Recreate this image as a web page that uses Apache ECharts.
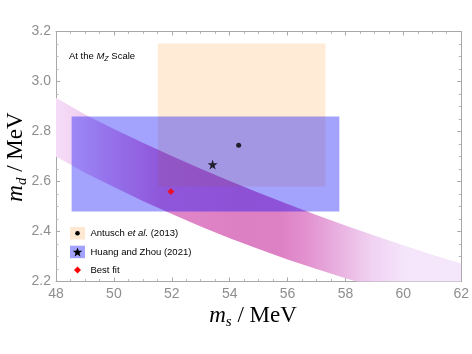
<!DOCTYPE html>
<html><head><meta charset="utf-8">
<script src="https://cdn.jsdelivr.net/npm/echarts@6/dist/echarts.min.js"></script>
<style>html,body{margin:0;padding:0;background:#fff}#c{width:472px;height:354px}</style>
</head><body><div id="c"></div>
<script>
// ---- data ----
const bandMs    = [48, 49, 50, 51, 52, 53, 54, 55, 56, 57, 58, 59, 60, 61, 62];
const bandUpper = [2.935, 2.868, 2.810, 2.755, 2.702, 2.651, 2.602, 2.555, 2.510, 2.466, 2.424, 2.384, 2.345, 2.307, 2.272];
const bandLower = [2.700, 2.635, 2.578, 2.522, 2.470, 2.420, 2.373, 2.330, 2.288, 2.250, 2.213, 2.178, 2.144, 2.112, 2.080];
// boxes: [ms low, ms high, md low, md high]
const antuschBox = [51.52, 57.31, 2.58, 3.152];
const huangBox   = [48.54, 57.79, 2.48, 2.86];
const antuschPoint = [54.31, 2.745];
const huangPoint   = [53.41, 2.668];
const bestFitPoint = [51.97, 2.56];
const xRange = [48, 62], xStep = 2;
const yRange = [2.2, 3.2], yStep = 0.2;
const legendLabels = ['Antusch', 'et al.', '(2013)', 'Huang and Zhou (2021)', 'Best fit'];

const STAR = 'path://M50,2 L61.2,36.2 L97.5,36.5 L68.2,57.8 L79.4,92 L50,71 L20.6,92 L31.8,57.8 L2.5,36.5 L38.8,36.2 Z';

function starPoints(cx, cy, R) {
  const pts = [];
  for (let k = 0; k < 10; k++) {
    const r = k % 2 === 0 ? R : R * 0.42;
    const a = -Math.PI / 2 + k * Math.PI / 5;
    pts.push([cx + r * Math.cos(a), cy + r * Math.sin(a)]);
  }
  return pts;
}

const chart = echarts.init(document.getElementById('c'), null, {renderer: 'canvas'});

const axisCommon = {
  type: 'value',
  axisLine: {show: true, onZero: false, lineStyle: {color: '#a8a8a8', width: 1}},
  axisTick: {show: true, inside: true, length: 4, lineStyle: {color: '#a8a8a8'}},
  minorTick: {show: true, splitNumber: 4, length: 2.5, lineStyle: {color: '#b8b8b8'}},
  splitLine: {show: false},
  minorSplitLine: {show: false}
};
const labelStyle = {color: '#8e8e8e', fontSize: 14, fontFamily: 'Liberation Sans'};

function boxSeries(box, color, z) {
  return {
    type: 'custom', z: z, xAxisIndex: 0, yAxisIndex: 0,
    data: [box], silent: true,
    encode: {x: [0, 1], y: [2, 3]},
    renderItem: function (params, api) {
      const p1 = api.coord([api.value(0), api.value(3)]);
      const p2 = api.coord([api.value(1), api.value(2)]);
      return {type: 'rect', shape: {x: p1[0], y: p1[1], width: p2[0] - p1[0], height: p2[1] - p1[1]},
              style: {fill: color}};
    }
  };
}

const bandRows = bandMs.map((m, i) => [m, bandLower[i], bandUpper[i]]);

const option = {
  animation: false,
  backgroundColor: '#ffffff',
  grid: {left: 56, right: 9.5, top: 31.5, bottom: 72.5, containLabel: false},
  xAxis: [
    Object.assign({}, axisCommon, {min: xRange[0], max: xRange[1], interval: xStep, position: 'bottom',
      axisLabel: Object.assign({margin: 6}, labelStyle)}),
    Object.assign({}, axisCommon, {min: xRange[0], max: xRange[1], interval: xStep, position: 'top',
      axisLabel: {show: false}})
  ],
  yAxis: [
    Object.assign({}, axisCommon, {min: yRange[0], max: yRange[1], interval: yStep, position: 'left',
      axisLabel: Object.assign({margin: 5, formatter: v => v.toFixed(1)}, labelStyle)}),
    Object.assign({}, axisCommon, {min: yRange[0], max: yRange[1], interval: yStep, position: 'right',
      axisLabel: {show: false}})
  ],
  series: [
    {
      type: 'custom', z: 1, xAxisIndex: 0, yAxisIndex: 0, silent: true,
      data: bandRows,
      encode: {x: 0, y: [1, 2]},
      renderItem: function (params, api) {
        if (params.dataIndex !== 0) return null;
        const upper = bandRows.map(r => api.coord([r[0], r[2]]));
        const lower = bandRows.map(r => api.coord([r[0], r[1]])).reverse();
        const pts = upper.concat(lower);
        const x0 = api.coord([bandRows[0][0], yRange[0]])[0];
        const x1 = api.coord([bandRows[bandRows.length - 1][0], yRange[0]])[0];
        const cs = params.coordSys;
        return {
          type: 'polygon',
          shape: {points: pts},
          style: {
            fill: new echarts.graphic.LinearGradient(x0, 0, x1, 0, [
              {offset: 0.00, color: '#f5dcf7'},
              {offset: 0.05, color: '#f2d2f2'},
              {offset: 0.13, color: '#eab3e3'},
              {offset: 0.26, color: '#e088c9'},
              {offset: 0.45, color: '#dd7fc3'},
              {offset: 0.55, color: '#dd80c4'},
              {offset: 0.62, color: '#e292cf'},
              {offset: 0.70, color: '#e9b2e1'},
              {offset: 0.78, color: '#f0d2f2'},
              {offset: 0.86, color: '#f5e5fa'},
              {offset: 1.00, color: '#f5e7fb'}
            ], true)
          },
          clipPath: {type: 'rect', shape: {x: cs.x, y: cs.y, width: cs.width, height: cs.height}}
        };
      }
    },
    boxSeries(antuschBox, 'rgba(255,128,0,0.16)', 2),
    boxSeries(huangBox, 'rgba(0,0,250,0.36)', 3),
    {
      type: 'scatter', z: 5, xAxisIndex: 0, yAxisIndex: 0, data: [antuschPoint],
      symbol: 'circle', symbolSize: 5, itemStyle: {color: '#000'}, silent: true
    },
    {
      type: 'scatter', z: 5, xAxisIndex: 0, yAxisIndex: 0, data: [huangPoint],
      symbol: STAR, symbolSize: 10, itemStyle: {color: '#000'}, silent: true
    },
    {
      type: 'scatter', z: 5, xAxisIndex: 0, yAxisIndex: 0, data: [bestFitPoint],
      symbol: 'diamond', symbolSize: 7, itemStyle: {color: '#ff0000'}, silent: true
    }
  ],
  graphic: [
    {
      type: 'text', x: 69, y: 56.5, z: 10,
      style: {
        text: '{a|At the }{i|M}{s|Z}{a| Scale}',
        verticalAlign: 'middle', align: 'left',
        rich: {
          a: {fontSize: 9.5, fontFamily: 'Liberation Sans', fill: '#000', lineHeight: 12},
          i: {fontSize: 9.5, fontFamily: 'Liberation Sans', fontStyle: 'italic', fill: '#000', lineHeight: 12},
          s: {fontSize: 7, fontFamily: 'Liberation Sans', fontStyle: 'italic', fill: '#000', verticalAlign: 'bottom'}
        }
      }
    },
    {
      type: 'text', x: 253, y: 316, z: 10,
      style: {
        text: '{i|m}{s|s}{n| / MeV}',
        align: 'center', verticalAlign: 'middle',
        rich: {
          i: {fontSize: 23, fontFamily: 'Liberation Serif', fontStyle: 'italic', lineHeight: 28, fill: '#000'},
          s: {fontSize: 15, fontFamily: 'Liberation Serif', fontStyle: 'italic', verticalAlign: 'bottom', fill: '#000'},
          n: {fontSize: 23, fontFamily: 'Liberation Serif', lineHeight: 28, fill: '#000'}
        }
      }
    },
    {
      type: 'text', x: 16, y: 157, z: 10, rotation: Math.PI / 2,
      style: {
        text: '{i|m}{s|d}{n| / MeV}',
        align: 'center', verticalAlign: 'middle',
        rich: {
          i: {fontSize: 23, fontFamily: 'Liberation Serif', fontStyle: 'italic', lineHeight: 28, fill: '#000'},
          s: {fontSize: 15, fontFamily: 'Liberation Serif', fontStyle: 'italic', verticalAlign: 'bottom', fill: '#000'},
          n: {fontSize: 23, fontFamily: 'Liberation Serif', lineHeight: 28, fill: '#000'}
        }
      }
    },
    // legend
    {type: 'rect', z: 10, shape: {x: 70, y: 227, width: 15, height: 12.5}, style: {fill: 'rgba(255,128,0,0.18)'}},
    {type: 'circle', z: 11, shape: {cx: 77.5, cy: 233.2, r: 2.3}, style: {fill: '#000'}},
    {type: 'rect', z: 10, shape: {x: 70, y: 245.7, width: 15, height: 12.5}, style: {fill: 'rgba(0,0,250,0.36)'}},
    {type: 'polygon', z: 11, shape: {points: starPoints(77.5, 252.4, 5)}, style: {fill: '#000'}},
    {type: 'polygon', z: 11, shape: {points: [[77.5, 266.5], [81, 270], [77.5, 273.5], [74, 270]]}, style: {fill: '#ff0000'}},
    {
      type: 'text', x: 90.5, y: 233.2, z: 10,
      style: {
        text: '{a|' + legendLabels[0] + ' }{i|' + legendLabels[1] + '}{a| ' + legendLabels[2] + '}',
        verticalAlign: 'middle', align: 'left',
        rich: {
          a: {fontSize: 9.5, fontFamily: 'Liberation Sans', fill: '#000'},
          i: {fontSize: 9.5, fontFamily: 'Liberation Sans', fontStyle: 'italic', fill: '#000'}
        }
      }
    },
    {type: 'text', x: 90.5, y: 252, z: 10, style: {text: legendLabels[3], fontSize: 9.5, fontFamily: 'Liberation Sans', fill: '#000', verticalAlign: 'middle'}},
    {type: 'text', x: 90.5, y: 270, z: 10, style: {text: legendLabels[4], fontSize: 9.5, fontFamily: 'Liberation Sans', fill: '#000', verticalAlign: 'middle'}}
  ]
};
chart.setOption(option);
</script>
</body></html>
